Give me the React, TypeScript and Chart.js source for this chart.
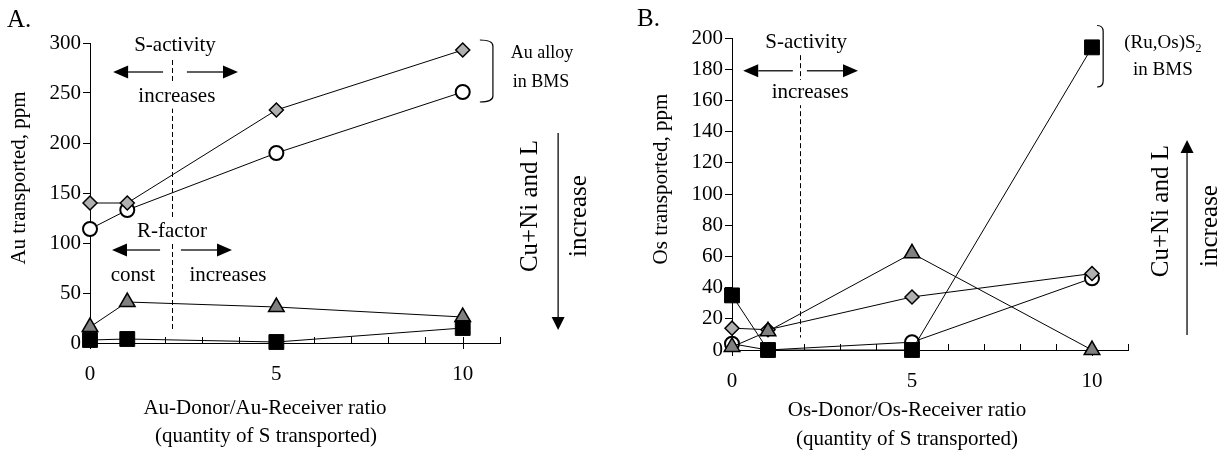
import React, { useEffect, useRef } from 'react';
import { Chart, registerables } from 'chart.js';
Chart.register(...registerables);

// ---------- data ----------
const ratios = [0, 1, 5, 10];

// Panel A: Au transported, ppm
const auSquare = [3, 4, 1, 15];
const auTriangle = [16, 41, 36, 26];
const auDiamond = [140, 140, 233, 293];
const auCircle = [114, 133, 190, 251];

// Panel B: Os transported, ppm
const osSquare = [35, 0, 0, 194];
const osTriangle = [2, 12, 62, 0];
const osDiamond = [14, 13, 34, 49];
const osCircle = [4, 0, 5, 46];

const xMajorTicks = [0, 5, 10];
const xMax = 11;
const auYMax = 300;
const auYStep = 50;
const osYMax = 200;
const osYStep = 20;

const FONT = '"Liberation Serif", "Times New Roman", serif';

type Marker = { values: number[]; style: string; radius: number; fill: string; bw: number };

const markerSquare = { style: 'rect', radius: 10.5, fill: '#000000', bw: 1 };
const markerTriangle = { style: 'triangle', radius: 9, fill: '#808080', bw: 1.5 };
const markerDiamond = { style: 'rectRot', radius: 7, fill: '#b0b0b0', bw: 1.5 };
const markerCircle = { style: 'circle', radius: 7, fill: '#ffffff', bw: 2 };

type Ann =
  | { kind: 'text'; x: number; y: number; text: string; size: number; sub?: string; mask?: boolean; rot?: boolean }
  | { kind: 'arrow'; x1: number; y1: number; x2: number; y2: number; hl: number; hw: number }
  | { kind: 'dash'; x: number; y1: number; y2: number }
  | { kind: 'bracket'; x1: number; x2: number; y1: number; y2: number };

type PText = { x: number; y: number; text: string; size: number; rot?: boolean; align?: CanvasTextAlign };

// annotation positions given in data units of each panel
const annA: Ann[] = [
  { kind: 'dash', x: 2.21, y1: 283, y2: 13 },
  { kind: 'text', x: 2.28, y: 298, text: 'S-activity', size: 21 },
  { kind: 'arrow', x1: 1.96, y1: 271, x2: 0.62, y2: 271, hl: 15, hw: 13 },
  { kind: 'arrow', x1: 2.6, y1: 271, x2: 3.97, y2: 271, hl: 15, hw: 13 },
  { kind: 'text', x: 2.33, y: 247, text: 'increases', size: 21, mask: true },
  { kind: 'text', x: 2.2, y: 112, text: 'R-factor', size: 21, mask: true },
  { kind: 'arrow', x1: 1.88, y1: 93, x2: 0.59, y2: 93, hl: 15, hw: 13 },
  { kind: 'arrow', x1: 2.44, y1: 93, x2: 3.81, y2: 93, hl: 15, hw: 13 },
  { kind: 'text', x: 1.15, y: 68, text: 'const', size: 21 },
  { kind: 'text', x: 3.7, y: 68, text: 'increases', size: 21 },
  { kind: 'bracket', x1: 10.46, x2: 10.81, y1: 303, y2: 241 },
  { kind: 'text', x: 12.13, y: 290, text: 'Au alloy', size: 18 },
  { kind: 'text', x: 12.1, y: 261, text: 'in BMS', size: 18 },
  { kind: 'text', x: 11.83, y: 137, text: 'Cu+Ni and L', size: 25, rot: true },
  { kind: 'arrow', x1: 12.56, y1: 210, x2: 12.56, y2: 13, hl: 13, hw: 13 },
  { kind: 'text', x: 13.12, y: 127, text: 'increase', size: 25, rot: true },
];

const annB: Ann[] = [
  { kind: 'dash', x: 1.89, y1: 189, y2: 8 },
  { kind: 'text', x: 2.06, y: 197, text: 'S-activity', size: 21 },
  { kind: 'arrow', x1: 1.69, y1: 179, x2: 0.31, y2: 179, hl: 15, hw: 13 },
  { kind: 'arrow', x1: 2.08, y1: 179, x2: 3.5, y2: 179, hl: 15, hw: 13 },
  { kind: 'text', x: 2.17, y: 165, text: 'increases', size: 21, mask: true },
  { kind: 'bracket', x1: 10.14, x2: 10.31, y1: 208, y2: 168.6 },
  { kind: 'text', x: 11.97, y: 196.8, text: '(Ru,Os)S', sub: '2', size: 19 },
  { kind: 'text', x: 11.97, y: 179.5, text: 'in BMS', size: 19 },
  { kind: 'text', x: 11.92, y: 89, text: 'Cu+Ni and L', size: 25, rot: true },
  { kind: 'arrow', x1: 12.64, y1: 9.6, x2: 12.64, y2: 134.6, hl: 13, hw: 13 },
  { kind: 'text', x: 13.28, y: 79.5, text: 'increase', size: 25, rot: true },
];

// texts in canvas pixels
const ptA: PText[] = [
  { x: 7, y: 20, text: 'A.', size: 25, align: 'left' },
  { x: 19, y: 178, text: 'Au transported, ppm', size: 21, rot: true },
  { x: 265, y: 408, text: 'Au-Donor/Au-Receiver ratio', size: 21 },
  { x: 266, y: 436, text: '(quantity of S transported)', size: 21 },
];
const ptB: PText[] = [
  { x: 25, y: 19, text: 'B.', size: 25, align: 'left' },
  { x: 49, y: 179, text: 'Os transported, ppm', size: 21, rot: true },
  { x: 295, y: 410, text: 'Os-Donor/Os-Receiver ratio', size: 21 },
  { x: 295, y: 439, text: '(quantity of S transported)', size: 21 },
];

function drawHead(ctx: CanvasRenderingContext2D, x1: number, y1: number, x2: number, y2: number, len: number, w: number) {
  const a = Math.atan2(y2 - y1, x2 - x1);
  const bx = x2 - len * Math.cos(a);
  const by = y2 - len * Math.sin(a);
  ctx.beginPath();
  ctx.moveTo(x2, y2);
  ctx.lineTo(bx + (w / 2) * Math.sin(a), by - (w / 2) * Math.cos(a));
  ctx.lineTo(bx - (w / 2) * Math.sin(a), by + (w / 2) * Math.cos(a));
  ctx.closePath();
  ctx.fill();
  return [bx, by];
}

function makePlugin(anns: Ann[], ptexts: PText[]) {
  return {
    id: 'panelAnnotations',
    beforeDatasetsDraw(chart: any) {
      const ctx: CanvasRenderingContext2D = chart.ctx;
      const xs = chart.scales.x;
      const ys = chart.scales.y;
      const px = (v: number) => xs.getPixelForValue(v);
      const py = (v: number) => ys.getPixelForValue(v);
      ctx.save();
      // x-axis tick marks
      const axisY = py(0);
      ctx.strokeStyle = '#000';
      ctx.lineWidth = 1;
      for (let v = 0; v <= xMax; v++) {
        const x = Math.round(px(v)) + 0.5;
        const major = xMajorTicks.includes(v);
        ctx.beginPath();
        ctx.moveTo(x, axisY - 6);
        ctx.lineTo(x, axisY + (major ? 6 : 0));
        ctx.stroke();
      }
      // dashed lines
      for (const a of anns) {
        if (a.kind !== 'dash') continue;
        ctx.save();
        ctx.setLineDash([5, 3]);
        ctx.strokeStyle = '#000';
        ctx.lineWidth = 1;
        const x = Math.round(px(a.x)) + 0.5;
        ctx.beginPath();
        ctx.moveTo(x, py(a.y1));
        ctx.lineTo(x, py(a.y2));
        ctx.stroke();
        ctx.restore();
      }
      for (const a of anns) {
        if (a.kind === 'text') {
          ctx.save();
          ctx.font = `${a.size}px ${FONT}`;
          ctx.fillStyle = '#000';
          ctx.textBaseline = 'middle';
          const x = px(a.x);
          const y = py(a.y);
          if (a.rot) {
            ctx.translate(x, y);
            ctx.rotate(-Math.PI / 2);
            ctx.textAlign = 'center';
            ctx.fillText(a.text, 0, 0);
          } else {
            const w = ctx.measureText(a.text).width;
            let subW = 0;
            if (a.sub) {
              ctx.font = `${Math.round(a.size * 0.65)}px ${FONT}`;
              subW = ctx.measureText(a.sub).width;
              ctx.font = `${a.size}px ${FONT}`;
            }
            const total = w + subW;
            const left = x - total / 2;
            if (a.mask) {
              ctx.fillStyle = '#fff';
              ctx.fillRect(left - 3, y - a.size * 0.6, total + 6, a.size * 1.2);
              ctx.fillStyle = '#000';
            }
            ctx.textAlign = 'left';
            ctx.fillText(a.text, left, y);
            if (a.sub) {
              ctx.font = `${Math.round(a.size * 0.65)}px ${FONT}`;
              ctx.fillText(a.sub, left + w, y + a.size * 0.3);
            }
          }
          ctx.restore();
        } else if (a.kind === 'arrow') {
          ctx.save();
          ctx.fillStyle = '#000';
          ctx.strokeStyle = '#2a2a2a';
          ctx.lineWidth = 1.5;
          const x1 = px(a.x1), y1 = py(a.y1), x2 = px(a.x2), y2 = py(a.y2);
          const [bx, by] = drawHead(ctx, x1, y1, x2, y2, a.hl, a.hw);
          ctx.beginPath();
          ctx.moveTo(x1, y1);
          ctx.lineTo(bx, by);
          ctx.stroke();
          ctx.restore();
        } else if (a.kind === 'bracket') {
          ctx.save();
          ctx.strokeStyle = '#000';
          ctx.lineWidth = 1.2;
          const x1 = px(a.x1), x2 = px(a.x2), y1 = py(a.y1), y2 = py(a.y2);
          const r = 6;
          ctx.beginPath();
          ctx.moveTo(x1, y1);
          ctx.quadraticCurveTo(x2, y1, x2, y1 + r);
          ctx.lineTo(x2, y2 - r);
          ctx.quadraticCurveTo(x2, y2, x1, y2);
          ctx.stroke();
          ctx.restore();
        }
      }
      // pixel texts (titles, panel letters)
      for (const t of ptexts) {
        ctx.save();
        ctx.font = `${t.size}px ${FONT}`;
        ctx.fillStyle = '#000';
        ctx.textBaseline = 'middle';
        if (t.rot) {
          ctx.translate(t.x, t.y);
          ctx.rotate(-Math.PI / 2);
          ctx.textAlign = 'center';
          ctx.fillText(t.text, 0, 0);
        } else {
          ctx.textAlign = t.align || 'center';
          ctx.fillText(t.text, t.x, t.y);
        }
        ctx.restore();
      }
      ctx.restore();
    },
  };
}

type PanelSpec = {
  series: Marker[];
  yMax: number;
  yStep: number;
  padding: { left: number; right: number; top: number; bottom: number };
  anns: Ann[];
  ptexts: PText[];
};

function buildConfig(p: PanelSpec): any {
  const datasets = p.series.map((s) => ({
    data: ratios.map((x, i) => ({ x, y: s.values[i] })),
    showLine: true,
    borderColor: '#000',
    borderWidth: 1,
    pointStyle: s.style,
    pointRadius: s.radius,
    pointHoverRadius: s.radius,
    pointBackgroundColor: s.fill,
    pointBorderColor: '#000',
    pointBorderWidth: s.bw,
    clip: false,
  }));
  const tickFont = { family: FONT, size: 21 };
  return {
    type: 'scatter',
    data: { datasets },
    options: {
      animation: false,
      responsive: false,
      devicePixelRatio: 1,
      events: [],
      layout: { padding: p.padding },
      plugins: { legend: { display: false }, tooltip: { enabled: false } },
      scales: {
        x: {
          type: 'linear',
          min: 0,
          max: xMax,
          afterFit: (s: any) => {
            s.height = 50;
          },
          ticks: {
            stepSize: 1,
            autoSkip: false,
            maxRotation: 0,
            font: tickFont,
            color: '#000',
            padding: 19,
            callback: (v: number) => (xMajorTicks.includes(v) ? String(v) : ''),
          },
          grid: { display: false, drawTicks: false },
          border: { display: true, color: '#000', width: 1 },
        },
        y: {
          type: 'linear',
          min: 0,
          max: p.yMax,
          afterFit: (s: any) => {
            s.width = 60;
          },
          ticks: { stepSize: p.yStep, font: tickFont, color: '#000', padding: 2 },
          grid: { display: true, drawOnChartArea: false, drawTicks: true, tickLength: 7, color: '#000' },
          border: { display: true, color: '#000', width: 1 },
        },
      },
    },
    plugins: [makePlugin(p.anns, p.ptexts)],
  };
}

const panelA: PanelSpec = {
  series: [
    { values: auSquare, ...markerSquare },
    { values: auTriangle, ...markerTriangle },
    { values: auDiamond, ...markerDiamond },
    { values: auCircle, ...markerCircle },
  ],
  yMax: auYMax,
  yStep: auYStep,
  padding: { left: 30, right: 112, top: 43, bottom: 60 },
  anns: annA,
  ptexts: ptA,
};

const panelB: PanelSpec = {
  series: [
    { values: osSquare, ...markerSquare },
    { values: osTriangle, ...markerTriangle },
    { values: osDiamond, ...markerDiamond },
    { values: osCircle, ...markerCircle },
  ],
  yMax: osYMax,
  yStep: osYStep,
  padding: { left: 60, right: 97, top: 38, bottom: 53 },
  anns: annB,
  ptexts: ptB,
};

export default function App() {
  const leftRef = useRef<HTMLCanvasElement>(null);
  const rightRef = useRef<HTMLCanvasElement>(null);
  useEffect(() => {
    const c1 = new Chart(leftRef.current as HTMLCanvasElement, buildConfig(panelA));
    const c2 = new Chart(rightRef.current as HTMLCanvasElement, buildConfig(panelB));
    return () => {
      c1.destroy();
      c2.destroy();
    };
  }, []);
  return (
    <div style={{ position: 'absolute', left: 0, top: 0, width: 1225, height: 453, background: '#fff' }}>
      <canvas
        ref={leftRef}
        width={612}
        height={453}
        style={{ position: 'absolute', left: 0, top: 0, width: 612, height: 453 }}
      />
      <canvas
        ref={rightRef}
        width={613}
        height={453}
        style={{ position: 'absolute', left: 612, top: 0, width: 613, height: 453 }}
      />
    </div>
  );
}
